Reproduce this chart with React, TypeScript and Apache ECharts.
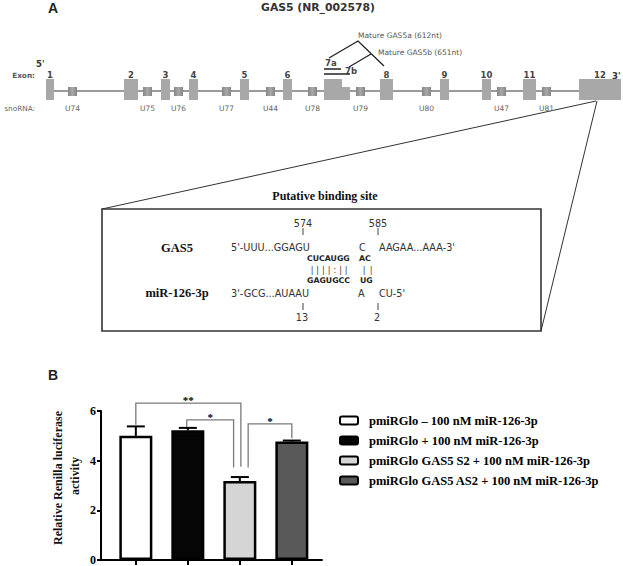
import React, { useEffect, useRef } from 'react';
import * as echarts from 'echarts';

// ---------- Panel B data ----------
const legendNames = [
  'pmiRGlo – 100 nM miR-126-3p',
  'pmiRGlo + 100 nM miR-126-3p',
  'pmiRGlo GAS5 S2 + 100 nM miR-126-3p',
  'pmiRGlo GAS5 AS2 + 100 nM miR-126-3p',
];
const barPositions = [1, 2, 3, 4];
const means = [5.0, 5.22, 3.18, 4.77];
const errors = [0.38, 0.1, 0.16, 0.04];
const yTickValues = [0, 2, 4, 6];
const sigLabels = ['**', '*', '*'];
const sigFrom = [1, 1.98, 3.16];
const sigTo = [3.02, 2.88, 4];
const sigTop = [6.32, 5.64, 5.48];
const sigFromBase = [5.45, 5.36, 3.72];
const sigToBase = [3.76, 3.72, 4.9];

// ---------- Panel A data (schematic gene scale) ----------
const exonNames = ['1', '2', '3', '4', '5', '6', '', '8', '9', '10', '11', '12'];
const exonStart = [46, 124, 161, 189, 240, 283, 324, 380, 440, 482, 523, 579];
const exonEnd = [54, 138, 170, 198, 249, 292, 342, 393, 449, 491, 536, 621];
const exon7bExt = [342, 350];
const snoNames = ['U74', 'U75', 'U76', 'U77', 'U44', 'U78', 'U79', 'U80', 'U47', 'U81'];
const snoStart = [68, 143, 174, 222, 266, 308, 356, 422, 497, 542];
const snoLength = 9;

const barFill = ['#ffffff', '#050505', '#d5d5d5', '#595959'];
const SERIF = '"Liberation Serif", "Times New Roman", serif';
const SANS = '"DejaVu Sans", Verdana, sans-serif';

export default function App() {
  const ref = useRef<HTMLDivElement>(null);
  useEffect(() => {
    const chart = echarts.init(ref.current!, undefined, { renderer: 'svg' });

    const txt = (text: string, x: number, y: number, font: string, opts: any = {}) => ({
      type: 'text',
      x,
      y,
      silent: true,
      style: {
        text,
        font,
        fill: opts.fill || '#333',
        align: opts.align || 'left',
        verticalAlign: opts.va || 'middle',
      },
      rotation: opts.rotation || 0,
    });
    const ln = (x1: number, y1: number, x2: number, y2: number, color = '#333', w = 1) => ({
      type: 'line',
      silent: true,
      shape: { x1, y1, x2, y2 },
      style: { stroke: color, lineWidth: w },
    });

    const seqR = `9.7px ${SANS}`;
    const seqB = `bold 7.8px ${SANS}`;
    const pairTop = ['|', '|', '|', '|', ':', '|', '|'];

    const graphics: any[] = [
      txt('A', 48, 8, `bold 14px "Liberation Sans", Arial, sans-serif`, { fill: '#222' }),
      txt('B', 48, 375, `bold 14px "Liberation Sans", Arial, sans-serif`, { fill: '#222' }),
      txt('GAS5 (NR_002578)', 318, 7, `bold 10.8px ${SANS}`, { align: 'center', fill: '#333' }),
      txt("5'", 36, 64, `bold 8.5px ${SANS}`, { fill: '#333' }),
      txt("3'", 612, 76, `bold 8.5px ${SANS}`, { fill: '#333' }),
      txt('Exon:', 35, 75, `bold 7.3px ${SANS}`, { align: 'right', fill: '#555' }),
      txt('snoRNA:', 35, 108, `7.3px ${SANS}`, { align: 'right', fill: '#666' }),
      txt('7a', 325, 63, `bold 8.5px ${SANS}`, { fill: '#444' }),
      txt('7b', 345, 71, `bold 8.5px ${SANS}`, { fill: '#444' }),
      ln(324, 69, 341, 69, '#222', 1.5),
      ln(324, 74, 350, 74, '#222', 1.5),
      {
        type: 'polyline',
        silent: true,
        shape: { points: [[329, 58], [358, 41], [384, 66]] },
        style: { stroke: '#222', lineWidth: 1.3, fill: 'none' },
      },
      ln(349, 67, 371, 54, '#222', 1.3),
      txt('Mature GAS5a (612nt)', 358, 35, `7.5px ${SANS}`, { fill: '#555' }),
      txt('Mature GAS5b (651nt)', 378, 52, `7.5px ${SANS}`, { fill: '#555' }),
      // zoom lines and box
      ln(102, 209, 596, 101, '#333', 1),
      ln(541, 331, 597, 101, '#333', 1),
      {
        type: 'rect',
        silent: true,
        shape: { x: 102, y: 209, width: 439, height: 122 },
        style: { stroke: '#333', lineWidth: 1.6, fill: 'none' },
      },
      txt('Putative binding site', 325, 196, `bold 12px ${SERIF}`, { align: 'center', fill: '#111' }),
      txt('574', 303, 223, seqR, { align: 'center' }),
      txt('585', 378, 223, seqR, { align: 'center' }),
      ln(303, 228, 303, 235, '#444', 1),
      ln(378, 228, 378, 235, '#444', 1),
      txt('GAS5', 177, 248, `bold 12.5px ${SERIF}`, { align: 'center', fill: '#111' }),
      txt("5'-UUU...GGAGU", 231, 247, seqR),
      txt('C', 359, 247, seqR),
      txt("AAGAA...AAA-3'", 379, 247, seqR),
      txt('CUCAUGG', 307, 258, seqB, { fill: '#222' }),
      txt('AC', 359, 258, seqB, { fill: '#222' }),
      ...pairTop.map((c, i) => txt(c, 310 + 5.7 * i + 2, 270, `8px ${SANS}`, { align: 'center' })),
      txt('|', 364, 270, `8px ${SANS}`, { align: 'center' }),
      txt('|', 371, 270, `8px ${SANS}`, { align: 'center' }),
      txt('GAGUGCC', 307, 280, seqB, { fill: '#222' }),
      txt('UG', 360, 280, seqB, { fill: '#222' }),
      txt('miR-126-3p', 177, 293, `bold 12.5px ${SERIF}`, { align: 'center', fill: '#111' }),
      txt("3'-GCG...AUAAU", 231, 293, seqR),
      txt('A', 358, 293, seqR),
      txt("CU-5'", 379, 293, seqR),
      ln(303, 303, 303, 310, '#444', 1),
      ln(378, 303, 378, 310, '#444', 1),
      txt('13', 302, 317, seqR, { align: 'center' }),
      txt('2', 377, 317, seqR, { align: 'center' }),
      // y axis title
      txt('Relative Renilla luciferase', 58, 478, `bold 12px ${SERIF}`, {
        align: 'center',
        rotation: Math.PI / 2,
        fill: '#111',
      }),
      txt('activity', 75, 476, `bold 12px ${SERIF}`, { align: 'center', rotation: Math.PI / 2, fill: '#111' }),
    ];

    const exonData: any[] = exonStart.map((s, i) => [s, exonEnd[i], 1]);
    exonData.push([exon7bExt[0], exon7bExt[1], 0.62]);
    const snoData = snoStart.map((s) => [s, s + snoLength]);

    const option: any = {
      animation: false,
      backgroundColor: '#ffffff',
      grid: [
        { left: 101, top: 411, width: 221, height: 150 },
        { left: 0, top: 79, width: 623, height: 21 },
      ],
      xAxis: [
        {
          type: 'value',
          gridIndex: 0,
          min: 0.33,
          max: 4.58,
          axisLine: { show: true, lineStyle: { color: '#000', width: 2 } },
          axisTick: { show: true, customValues: barPositions, length: 5, lineStyle: { color: '#000', width: 2 } },
          axisLabel: { show: false },
          splitLine: { show: false },
        },
        { type: 'value', gridIndex: 1, min: 0, max: 623, show: false },
      ],
      yAxis: [
        {
          type: 'value',
          gridIndex: 0,
          min: 0,
          max: 6,
          interval: 2,
          axisLine: { show: true, lineStyle: { color: '#000', width: 2 } },
          axisTick: { show: true, length: 4, lineStyle: { color: '#000', width: 2 } },
          axisLabel: {
            margin: 5,
            color: '#000',
            fontFamily: SERIF,
            fontWeight: 'bold',
            fontSize: 12,
            customValues: yTickValues,
          },
          splitLine: { show: false },
        },
        { type: 'value', gridIndex: 1, min: 0, max: 1, show: false },
      ],
      legend: {
        orient: 'vertical',
        left: 339,
        top: 414,
        padding: 0,
        itemWidth: 18,
        itemHeight: 8,
        itemGap: 7,
        icon: 'roundRect',
        selectedMode: false,
        itemStyle: { borderColor: '#000', borderWidth: 2 },
        textStyle: {
          fontFamily: SERIF,
          fontWeight: 'bold',
          fontSize: 12.5,
          lineHeight: 13,
          color: '#000',
          padding: [0, 0, 0, 6],
        },
        data: legendNames,
      },
      graphic: graphics,
      series: [
        ...legendNames.map((name, i) => ({
          type: 'bar',
          name,
          xAxisIndex: 0,
          yAxisIndex: 0,
          barWidth: 33,
          barGap: '-100%',
          data: [[barPositions[i], means[i]]],
          itemStyle: { color: barFill[i], borderColor: '#000', borderWidth: 2.5 },
          z: 2,
        })),
        {
          type: 'custom',
          name: 'errors',
          xAxisIndex: 0,
          yAxisIndex: 0,
          z: 4,
          clip: false,
          itemStyle: { color: '#000' },
          encode: { x: 0, y: [1, 2] },
          data: means.map((m, i) => [barPositions[i], m, m + errors[i]]),
          renderItem: (params: any, api: any) => {
            const p0 = api.coord([api.value(0), api.value(1)]);
            const p1 = api.coord([api.value(0), api.value(2)]);
            return {
              type: 'group',
              children: [
                { type: 'line', shape: { x1: p0[0], y1: p0[1], x2: p1[0], y2: p1[1] }, style: { stroke: '#000', lineWidth: 2 } },
                { type: 'line', shape: { x1: p1[0] - 9, y1: p1[1], x2: p1[0] + 9, y2: p1[1] }, style: { stroke: '#000', lineWidth: 2 } },
              ],
            };
          },
        },
        {
          type: 'custom',
          name: 'significance',
          xAxisIndex: 0,
          yAxisIndex: 0,
          z: 5,
          clip: false,
          itemStyle: { color: '#000' },
          encode: { x: [0, 1], y: [2, 3, 4] },
          data: sigLabels.map((_, i) => [sigFrom[i], sigTo[i], sigTop[i], sigFromBase[i], sigToBase[i]]),
          renderItem: (params: any, api: any) => {
            const a = api.coord([api.value(0), api.value(3)]);
            const b = api.coord([api.value(0), api.value(2)]);
            const c = api.coord([api.value(1), api.value(2)]);
            const d = api.coord([api.value(1), api.value(4)]);
            return {
              type: 'group',
              children: [
                {
                  type: 'polyline',
                  shape: { points: [a, b, c, d] },
                  style: { stroke: '#7a7a7a', lineWidth: 1.3, fill: 'none' },
                },
                {
                  type: 'text',
                  style: {
                    text: sigLabels[params.dataIndex],
                    x: (b[0] + c[0]) / 2,
                    y: b[1] - 3,
                    align: 'center',
                    verticalAlign: 'middle',
                    font: `bold 11px ${SERIF}`,
                    fill: '#000',
                  },
                },
              ],
            };
          },
        },
        {
          type: 'custom',
          name: 'geneLine',
          xAxisIndex: 1,
          yAxisIndex: 1,
          z: 1,
          clip: false,
          itemStyle: { color: '#9a9a9a' },
          encode: { x: [0, 1], y: 2 },
          data: [[exonEnd[0], exonStart[exonStart.length - 1], 0.43]],
          renderItem: (params: any, api: any) => {
            const a = api.coord([api.value(0), api.value(2)]);
            const b = api.coord([api.value(1), api.value(2)]);
            return {
              type: 'line',
              shape: { x1: a[0], y1: a[1], x2: b[0], y2: b[1] },
              style: { stroke: '#9a9a9a', lineWidth: 2 },
            };
          },
        },
        {
          type: 'custom',
          name: 'exons',
          xAxisIndex: 1,
          yAxisIndex: 1,
          z: 2,
          clip: false,
          itemStyle: { color: '#444' },
          encode: { x: [0, 1], y: 2 },
          data: exonData,
          renderItem: (params: any, api: any) => {
            const p0 = api.coord([api.value(0), api.value(2)]);
            const p1 = api.coord([api.value(1), 0]);
            const name = exonNames[params.dataIndex];
            const children: any[] = [
              {
                type: 'rect',
                shape: { x: p0[0], y: p0[1], width: p1[0] - p0[0], height: p1[1] - p0[1] },
                style: { fill: '#a8a8a8' },
              },
            ];
            if (name) {
              children.push({
                type: 'text',
                style: {
                  text: name,
                  x: (p0[0] + p1[0]) / 2,
                  y: p0[1] - 4,
                  align: 'center',
                  verticalAlign: 'middle',
                  font: `bold 8.5px ${SANS}`,
                  fill: '#444',
                },
              });
            }
            return { type: 'group', children };
          },
        },
        {
          type: 'custom',
          name: 'snoRNA',
          xAxisIndex: 1,
          yAxisIndex: 1,
          z: 3,
          clip: false,
          itemStyle: { color: '#666' },
          encode: { x: [0, 1] },
          data: snoData,
          renderItem: (params: any, api: any) => {
            const p0 = api.coord([api.value(0), 0.62]);
            const p1 = api.coord([api.value(1), 0.19]);
            const base = api.coord([api.value(0), 0]);
            return {
              type: 'group',
              children: [
                {
                  type: 'rect',
                  shape: { x: p0[0], y: p0[1], width: p1[0] - p0[0], height: p1[1] - p0[1] },
                  style: {
                    fill: new echarts.graphic.LinearGradient(0, 0, 1, 0, [
                      { offset: 0, color: '#858585' },
                      { offset: 0.5, color: '#a9a9a9' },
                      { offset: 1, color: '#858585' },
                    ]),
                  },
                },
                {
                  type: 'text',
                  style: {
                    text: snoNames[params.dataIndex],
                    x: (p0[0] + p1[0]) / 2,
                    y: base[1] + 8,
                    align: 'center',
                    verticalAlign: 'middle',
                    font: `7.5px ${SANS}`,
                    fill: '#666',
                  },
                },
              ],
            };
          },
        },
      ],
    };

    chart.setOption(option);
    return () => chart.dispose();
  }, []);

  return (
    <div
      ref={ref}
      style={{ position: 'fixed', left: 0, top: 0, width: 623, height: 566, background: '#fff' }}
    />
  );
}
